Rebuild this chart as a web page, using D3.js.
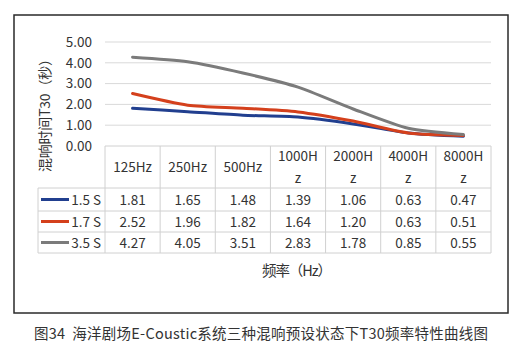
<!DOCTYPE html>
<html><head><meta charset="utf-8">
<script src="https://cdn.jsdelivr.net/npm/d3@7"></script>
<style>
html,body{margin:0;padding:0;background:#fff;}
svg text{font-family:"Noto Sans CJK SC","Noto Sans",sans-serif;}
</style></head>
<body>
<svg id="c" width="523" height="356"></svg>
<script>
const categories = ["125Hz","250Hz","500Hz","1000Hz","2000Hz","4000Hz","8000Hz"];
const headerLines = [["125Hz"],["250Hz"],["500Hz"],["1000H","z"],["2000H","z"],["4000H","z"],["8000H","z"]];
const seriesNames = ["1.5 S","1.7 S","3.5 S"];
const s15 = [1.81,1.65,1.48,1.39,1.06,0.63,0.47];
const s17 = [2.52,1.96,1.82,1.64,1.20,0.63,0.51];
const s35 = [4.27,4.05,3.51,2.83,1.78,0.85,0.55];
const yTicks = [0,1,2,3,4,5];
const colors = ["#213f8f","#d4401c","#7b7b7b"];
const series = [s15,s17,s35];

const svg = d3.select("#c");
// outer frame
svg.append("rect").attr("x",14).attr("y",15).attr("width",494).attr("height",298)
  .attr("fill","#fff").attr("stroke","#2a2a2a").attr("stroke-width",1.5);

const x = d3.scaleBand().domain(categories).range([105,491]).padding(0);
const y = d3.scaleLinear().domain([0,5]).range([146,42]);

// gridlines
svg.append("g").selectAll("line").data(yTicks.filter(d=>d>0)).join("line")
  .attr("x1",105).attr("x2",491).attr("y1",d=>y(d)).attr("y2",d=>y(d))
  .attr("stroke","#d9d9d9").attr("stroke-width",1);

// y axis labels
const yAxis = d3.axisLeft(y).tickValues(yTicks).tickFormat(d3.format(".2f")).tickSize(0).tickPadding(13);
const ga = svg.append("g").attr("transform","translate(105,0)").call(yAxis);
ga.select(".domain").remove();
ga.selectAll("text").attr("font-size",13.5).attr("fill","#333")
  .style("font-family",'"Noto Sans CJK SC","Noto Sans",sans-serif');

// y title
svg.append("text").attr("transform","translate(50,112) rotate(-90)")
  .attr("text-anchor","middle").attr("font-size",14).attr("fill","#333")
  .attr("textLength",120).attr("lengthAdjust","spacing")
  .text("混响时间T30（秒）");

// lines
const line = d3.line().x((d,i)=>x(categories[i])+x.bandwidth()/2).y(d=>y(d)).curve(d3.curveCardinal.tension(0.3));
svg.append("g").selectAll("path").data(series).join("path")
  .attr("d",d=>line(d)).attr("fill","none")
  .attr("stroke",(d,i)=>colors[i]).attr("stroke-width",3).attr("stroke-linecap","round");

// table
const tTop = 146, hBot = 188, rowB = [211,232,253], tLeft = 38;
const tg = svg.append("g");
const gc = "#d0d0d0";
tg.append("line").attr("x1",105).attr("x2",491).attr("y1",tTop).attr("y2",tTop).attr("stroke",gc);
[hBot,...rowB].forEach(yy=>tg.append("line").attr("x1",tLeft).attr("x2",491).attr("y1",yy).attr("y2",yy).attr("stroke",gc));
tg.append("line").attr("x1",tLeft).attr("x2",tLeft).attr("y1",hBot).attr("y2",rowB[2]).attr("stroke",gc);
categories.forEach(c=>tg.append("line").attr("x1",x(c)).attr("x2",x(c)).attr("y1",tTop).attr("y2",rowB[2]).attr("stroke",gc));
tg.append("line").attr("x1",491).attr("x2",491).attr("y1",tTop).attr("y2",rowB[2]).attr("stroke",gc);

const fs = 13.5;
headerLines.forEach((ls,i)=>{
  const cx = x(categories[i])+x.bandwidth()/2;
  if(ls.length===1){
    tg.append("text").attr("x",cx).attr("y",172).attr("text-anchor","middle").attr("font-size",fs).attr("fill","#333").text(ls[0]);
  } else {
    tg.append("text").attr("x",cx).attr("y",161).attr("text-anchor","middle").attr("font-size",fs).attr("fill","#333").text(ls[0]);
    tg.append("text").attr("x",cx).attr("y",183).attr("text-anchor","middle").attr("font-size",fs).attr("fill","#333").text(ls[1]);
  }
});
const rowMid = [199.5,221.5,242.5];
series.forEach((s,r)=>{
  tg.append("line").attr("x1",41).attr("x2",69).attr("y1",rowMid[r]).attr("y2",rowMid[r])
    .attr("stroke",colors[r]).attr("stroke-width",3);
  tg.append("text").attr("x",101).attr("y",rowMid[r]+5).attr("text-anchor","end").attr("font-size",fs).attr("fill","#333").text(seriesNames[r]);
  s.forEach((v,i)=>{
    tg.append("text").attr("x",x(categories[i])+x.bandwidth()/2).attr("y",rowMid[r]+5)
      .attr("text-anchor","middle").attr("font-size",fs).attr("fill","#333").text(d3.format(".2f")(v));
  });
});

// x title
svg.append("text").attr("x",262).attr("y",276).attr("font-size",14.5).attr("fill","#333")
  .attr("textLength",70).attr("lengthAdjust","spacing").text("频率（Hz）");

// caption
svg.append("text").attr("x",34).attr("y",339).attr("font-size",14.5).attr("fill","#333")
  .attr("textLength",454).attr("lengthAdjust","spacing")
  .text("图34\u00a0\u00a0海洋剧场E-Coustic系统三种混响预设状态下T30频率特性曲线图");
</script>
</body></html>
